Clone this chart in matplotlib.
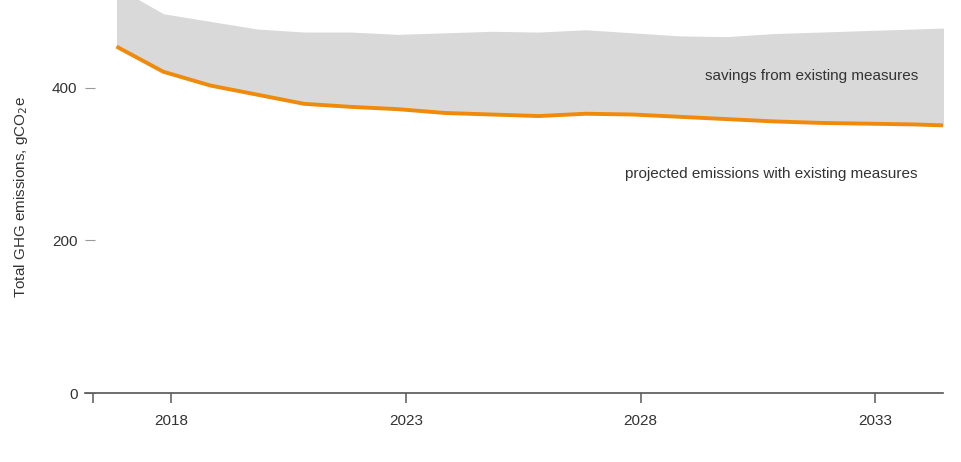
import numpy as np
import matplotlib.pyplot as plt

plt.rcParams['font.family'] = ['Liberation Sans', 'DejaVu Sans']

# yearly values
years = np.arange(2017, 2036)
projected = [454, 421, 403, 391, 379, 375, 372, 367, 365, 363,
             366, 365, 362, 359, 356, 354, 353, 352, 350]
baseline = [532, 497, 487, 477, 473, 473, 470, 472, 474, 473,
            476, 472, 468, 467, 471, 473, 475, 477, 479]
tick_years = [2018, 2023, 2028, 2033]
y_ticks = [0, 200, 400]

fig = plt.figure(figsize=(9.61, 4.62), dpi=100)
ax = fig.add_axes([0.088, 0.149, 0.893, 0.851])

ax.fill_between(years, projected, baseline, color='#d9d9d9', lw=0)
ax.plot(years, projected, color='#f08a0b', lw=2.8, solid_capstyle='butt')

ax.set_xlim(2016.32, 2034.61)
ax.set_ylim(0, 515)

# labels sit slightly after the year points
ax.set_xticks([2016.49] + [y + 0.17 for y in tick_years])
ax.set_xticklabels([''] + [str(y) for y in tick_years])
ax.set_yticks(y_ticks)

for s in ['top', 'right', 'left']:
    ax.spines[s].set_visible(False)
ax.spines['bottom'].set_color('#555555')
ax.spines['bottom'].set_linewidth(1.2)

ax.tick_params(axis='x', length=7, width=1.2, color='#666666', labelsize=11,
               labelcolor='#333333', pad=8)
ax.tick_params(axis='y', direction='in', length=7, width=0.8, color='#999999',
               labelsize=11, labelcolor='#333333', pad=5)

ax.set_ylabel('Total GHG emissions, gCO$_2$e', fontsize=11, color='#333333', labelpad=16)

ax.text(2034.08, 415, 'savings from existing measures', ha='right', va='center',
        fontsize=11, color='#333333')
ax.text(2034.08, 287, 'projected emissions with existing measures', ha='right',
        va='center', fontsize=11, color='#333333')

plt.savefig('out.png', dpi=100)
